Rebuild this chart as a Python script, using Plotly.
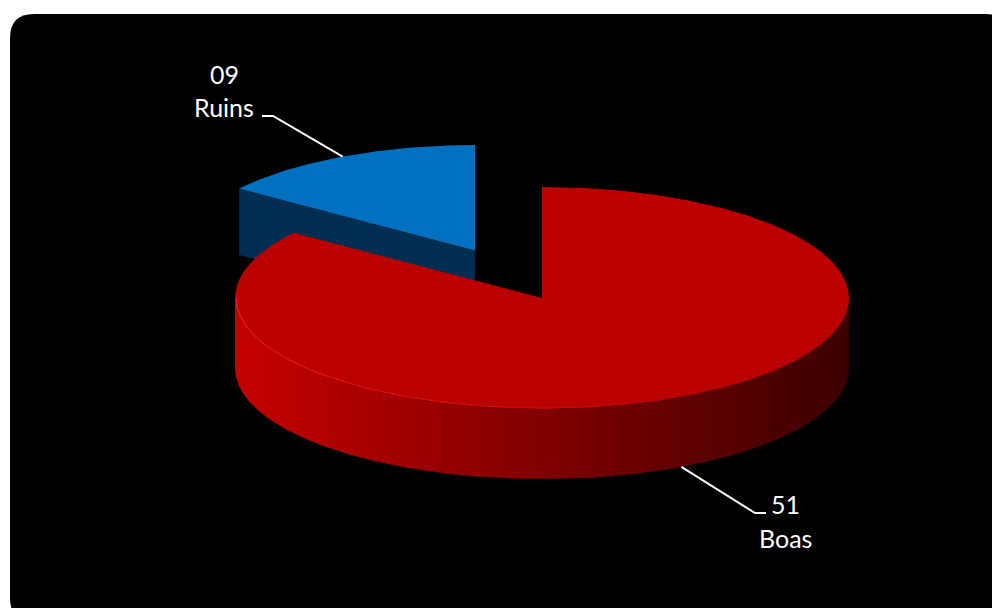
import numpy as np
import plotly.graph_objects as go

# ---- data ----
categories = ["Boas", "Ruins"]
values = [51, 9]
value_labels = ["51", "09"]

# ---- style ----
top_colors = {"Boas": "#BA0000", "Ruins": "#0070C0"}
side_colors = {"Boas": "#5A0000", "Ruins": "#002E50"}
wall_gradient = {"Boas": ["#C60000", "#3C0000"], "Ruins": ["#0070C0", "#002E50"]}
explode = {"Boas": 0.0, "Ruins": 0.48}
W, H = 992, 608
CX, CY, RX, RY, DEPTH = 542, 298, 307, 111, 70
EXPLODED_SCALE = 0.95
FONT = "Lato"

# label placement (text centre) and leader elbow points
label_pos = {"Ruins": (224, 74, 107), "Boas": (785, 504, 538)}
label_elbow = {"Ruins": [(262, 116), (273, 116)], "Boas": [(766, 513), (755, 513)]}


def ell(cx, cy, rx, ry, th):
    t = np.radians(th)
    return cx + rx * np.sin(t), cy - ry * np.cos(t)


def arc(cx, cy, rx, ry, a0, a1, n=None):
    n = n or max(4, int(abs(a1 - a0) * 2))
    th = np.linspace(a0, a1, n)
    x, y = ell(cx, cy, rx, ry, th)
    return list(x), list(y)


fig = go.Figure()


def poly(xs, ys, color=None, gradient=None):
    kw = dict(x=xs + [xs[0]], y=ys + [ys[0]], mode="lines", fill="toself",
              line=dict(width=0, color="rgba(0,0,0,0)"), hoverinfo="skip",
              showlegend=False)
    if gradient:
        kw["fillgradient"] = dict(type="horizontal", colorscale=gradient[0],
                                  start=gradient[1], stop=gradient[2])
    else:
        kw["fillcolor"] = color
    fig.add_trace(go.Scatter(**kw))


# slice geometry
total = float(sum(values))
slices = []
start = 0.0
for cat, v, lab in zip(categories, values, value_labels):
    span = v / total * 360.0
    mid = start + span / 2
    e = explode[cat]
    scx = CX + e * RX * np.sin(np.radians(mid))
    scy = CY - e * RY * np.cos(np.radians(mid))
    s = EXPLODED_SCALE if e > 0 else 1.0
    slices.append(dict(cat=cat, lab=lab, a0=start, a1=start + span, mid=mid,
                       cx=scx, cy=scy, rx=RX * s, ry=RY * s, d=DEPTH * s))
    start += span

# draw slices further back first
for sl in sorted(slices, key=lambda s: s["cy"]):
    cx, cy, rx, ry, d = sl["cx"], sl["cy"], sl["rx"], sl["ry"], sl["d"]
    a0, a1, cat = sl["a0"], sl["a1"], sl["cat"]

    # radial cut faces that face the viewer
    for a, nrm in ((a0, a0 - 90), (a1, a1 + 90)):
        if np.cos(np.radians(nrm)) < -1e-6:
            px, py = ell(cx, cy, rx, ry, a)
            poly([cx, px, px, cx], [cy, py, py + d, cy + d], color=side_colors[cat])

    # outer wall on the front half of the ellipse
    w0, w1 = max(a0, 90.0), min(a1, 270.0)
    if w1 > w0:
        tx, ty = arc(cx, cy, rx, ry, w0, w1)
        bx, by = tx[::-1], [yy + d for yy in ty[::-1]]
        g = wall_gradient[cat]
        poly(tx + bx, ty + by,
             gradient=([[0, g[0]], [1, g[1]]], cx - rx, cx + rx))

    # top face
    ax, ay = arc(cx, cy, rx, ry, a0, a1)
    poly([cx] + ax, [cy] + ay, color=top_colors[cat])

    # soft rim highlight along the lit front edge
    if w1 > w0:
        edges = np.linspace(min(w1, 272), max(w0, 150), 14)
        for i in range(len(edges) - 1):
            hx, hy = arc(cx, cy, rx - 1, ry - 1, edges[i], edges[i + 1], 8)
            op = 0.85 * (1 - i / (len(edges) - 1))
            fig.add_trace(go.Scatter(x=hx, y=hy, mode="lines",
                                     line=dict(color="#FF1A1A", width=1.6),
                                     opacity=op, hoverinfo="skip", showlegend=False))

# labels with leader lines
annotations = []
for sl in slices:
    cx, cy, rx, ry, d, mid = sl["cx"], sl["cy"], sl["rx"], sl["ry"], sl["d"], sl["mid"]
    px, py = ell(cx, cy, rx, ry, mid)
    if 90 < mid % 360 < 270:
        py += d
    elbow = label_elbow[sl["cat"]]
    fig.add_trace(go.Scatter(x=[elbow[0][0], elbow[1][0], px],
                             y=[elbow[0][1], elbow[1][1], py], mode="lines",
                             line=dict(color="white", width=2),
                             hoverinfo="skip", showlegend=False))
    lx, ly1, ly2 = label_pos[sl["cat"]]
    for txt, yy in ((sl["lab"], ly1), (sl["cat"], ly2)):
        annotations.append(dict(x=lx, y=yy, text=txt, showarrow=False,
                                xanchor="center", yanchor="middle",
                                font=dict(family=FONT, size=25, color="white")))

# black rounded panel
r = 24
x0, y0, x1, y1 = 10, 14, 1010, 622
panel = (f"M {x0+r},{y0} L {x1-r},{y0} Q {x1},{y0} {x1},{y0+r} L {x1},{y1-r} "
         f"Q {x1},{y1} {x1-r},{y1} L {x0+r},{y1} Q {x0},{y1} {x0},{y1-r} "
         f"L {x0},{y0+r} Q {x0},{y0} {x0+r},{y0} Z")

fig.update_layout(
    width=W, height=H, margin=dict(l=0, r=0, t=0, b=0),
    paper_bgcolor="white", plot_bgcolor="rgba(0,0,0,0)",
    xaxis=dict(range=[0, W], visible=False, fixedrange=True),
    yaxis=dict(range=[H, 0], visible=False, fixedrange=True),
    shapes=[dict(type="path", path=panel, xref="x", yref="y", layer="below",
                 fillcolor="black", line=dict(width=0))],
    annotations=annotations,
    showlegend=False,
)

fig.write_html("out.html")
